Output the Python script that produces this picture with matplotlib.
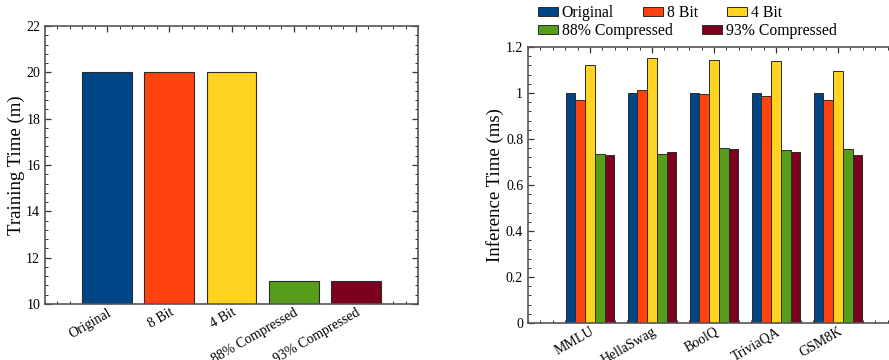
"""Training and inference time of original vs. quantized / compressed models."""

import matplotlib
matplotlib.use("Agg")
import matplotlib.pyplot as plt
from matplotlib.patches import Patch
from matplotlib.ticker import MultipleLocator, AutoMinorLocator, FormatStrFormatter
import numpy as np

plt.rcParams["font.family"] = ["Liberation Serif", "DejaVu Serif"]
plt.rcParams["mathtext.fontset"] = "stix"

# --- data -------------------------------------------------------------------
methods = ["Original", "8 Bit", "4 Bit", "88% Compressed", "93% Compressed"]
colors = ["#004586", "#ff420e", "#ffd320", "#579d1c", "#7e0021"]

training_time = [20, 20, 20, 11, 11]

benchmarks = ["MMLU", "HellaSwag", "BoolQ", "TriviaQA", "GSM8K"]
inf_original = [1.0, 1.0, 1.0, 1.0, 1.0]
inf_8bit = [0.968, 1.014, 0.994, 0.987, 0.968]
inf_4bit = [1.123, 1.154, 1.144, 1.138, 1.094]
inf_88 = [0.736, 0.735, 0.762, 0.753, 0.757]
inf_93 = [0.729, 0.745, 0.758, 0.743, 0.732]
inference = [inf_original, inf_8bit, inf_4bit, inf_88, inf_93]

EDGE = "#2b2b2b"
SPINE = "#555555"


def style_axes(ax):
    for s in ax.spines.values():
        s.set_color(SPINE)
        s.set_linewidth(1.2)
    ax.tick_params(which="both", direction="in", top=True, right=True,
                   colors="#333333", labelcolor="black", labelsize=10)
    ax.tick_params(which="major", length=4, width=0.9)
    ax.tick_params(which="minor", length=2, width=0.7)
    ax.tick_params(axis="x", which="major", pad=1.5)
    ax.xaxis.set_minor_locator(MultipleLocator(0.2))
    ax.yaxis.set_minor_locator(AutoMinorLocator(5))


fig = plt.figure(figsize=(8.89, 3.6), dpi=100)

# --- left: training time ------------------------------------------------------
ax1 = fig.add_axes([45 / 889, 56 / 360, 373 / 889, 278 / 360])
x = np.arange(len(methods))
ax1.bar(x, training_time, width=0.8, color=colors, edgecolor=EDGE,
        linewidth=0.8, zorder=2)
ax1.set_xlim(-1, 5)
ax1.set_ylim(10, 22)
ax1.yaxis.set_major_locator(MultipleLocator(2))
ax1.set_xticks(x)
ax1.set_xticklabels(methods, rotation=30, ha="right", rotation_mode="anchor")
ax1.set_ylabel("Training Time (m)", fontsize=13.5, labelpad=1)
style_axes(ax1)

# --- right: inference time ----------------------------------------------------
ax2 = fig.add_axes([528 / 889, 37 / 360, 372 / 889, 276 / 360])
gx = np.arange(len(benchmarks))
w = 0.158
for i, (vals, c) in enumerate(zip(inference, colors)):
    ax2.bar(gx + (i - 2) * w, vals, width=w, color=c, edgecolor=EDGE,
            linewidth=0.7, zorder=2)
ax2.set_xlim(-1, 5)
ax2.set_ylim(0, 1.2)
ax2.yaxis.set_major_locator(MultipleLocator(0.2))
ax2.yaxis.set_major_formatter(FormatStrFormatter("%g"))
ax2.set_xticks(gx)
ax2.set_xticklabels(benchmarks, rotation=30, ha="right", rotation_mode="anchor")
ax2.set_ylabel("Inference Time (ms)", fontsize=13.5, labelpad=1)
style_axes(ax2)

# legend: two rows laid out like the original (row-major, uneven columns)
handles = [Patch(facecolor=c, edgecolor=EDGE, linewidth=0.7) for c in colors]
leg_kw = dict(frameon=False, fontsize=11.3, handlelength=1.27, handleheight=0.55,
              handletextpad=0.25, columnspacing=1.85, borderpad=0,
              borderaxespad=0, loc="center left")
fig.legend(handles[:3], methods[:3], ncol=3,
           bbox_to_anchor=(538 / 889, 1 - 13 / 360), **leg_kw)
fig.legend(handles[3:], methods[3:], ncol=2,
           bbox_to_anchor=(538 / 889, 1 - 31 / 360), **leg_kw)

fig.savefig("out.png", dpi=100)
